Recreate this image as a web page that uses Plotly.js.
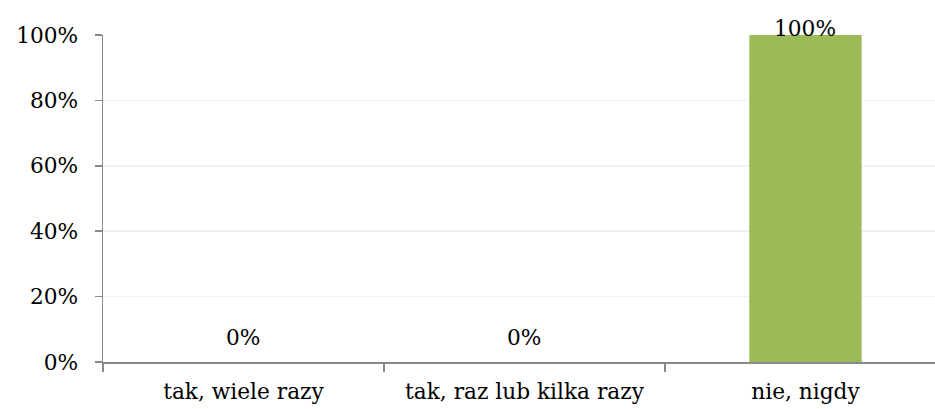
<!DOCTYPE html>
<html><head><meta charset="utf-8">
<script src="https://cdn.plot.ly/plotly-3.0.1.min.js"></script>
<style>html,body{margin:0;padding:0;background:#fff}#chart{width:935px;height:409px}</style>
</head><body><div id="chart"></div>
<script>
const categories = ["tak, wiele razy", "tak, raz lub kilka razy", "nie, nigdy"];
const values = [0, 0, 1];
const labels = ["0%", "0%", "100%"];
const yTickVals = [0, 0.2, 0.4, 0.6, 0.8, 1];
const yTickText = ["0%", "20%", "40%", "60%", "80%", "100%"];

const FONT = "DejaVu Serif";
const FS = 21.7;
const axisColor = "#898989";

const annotations = categories.map((c, i) => ({
  x: c, y: values[i], text: labels[i], showarrow: false,
  yanchor: "middle", yshift: values[i] === 0 ? 25 : 7,
  font: {family: FONT, size: FS, color: "#000"}
}));

Plotly.newPlot("chart", [{
  type: "bar", x: categories, y: values,
  marker: {color: "#9BBB59"}, width: 0.4, hoverinfo: "none"
}], {
  width: 935, height: 409,
  margin: {l: 103, r: 0, t: 35, b: 47},
  paper_bgcolor: "#fff", plot_bgcolor: "#fff",
  showlegend: false,
  font: {family: FONT, size: FS, color: "#000"},
  xaxis: {
    type: "category", range: [-0.5, 2.461],
    showline: true, linecolor: axisColor, linewidth: 1.5,
    ticks: "outside", tickson: "boundaries", ticklen: 8, tickcolor: axisColor, tickwidth: 1.5,
    ticklabelstandoff: 9,
    showgrid: false, zeroline: false, fixedrange: true,
    tickfont: {family: FONT, size: FS, color: "#000"}
  },
  yaxis: {
    range: [0, 1], tickvals: yTickVals, ticktext: yTickText,
    showline: true, linecolor: axisColor, linewidth: 1.5,
    ticks: "outside", ticklen: 7, tickcolor: axisColor, tickwidth: 1.5,
    ticklabelstandoff: 12,
    showgrid: true, gridcolor: "#F0F0F0", gridwidth: 1.5, zeroline: false,
    tickfont: {family: FONT, size: FS, color: "#000"}
  },
  annotations: annotations
}, {staticPlot: true});
</script></body></html>
